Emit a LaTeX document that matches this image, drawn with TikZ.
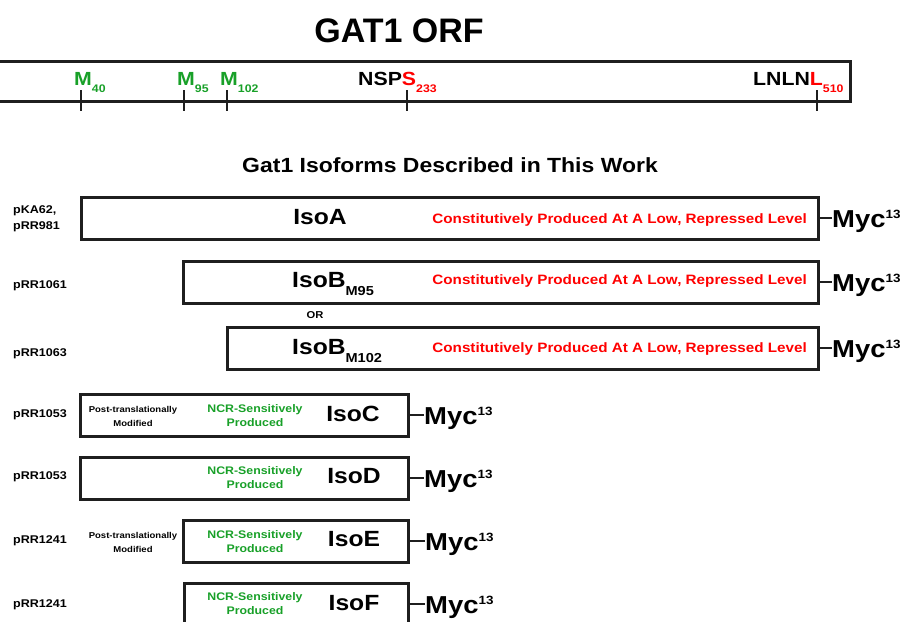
\documentclass[tikz,border=0pt]{standalone}
\usepackage{fontspec}
\setmainfont{Liberation Sans}[FakeStretch=1.12]
\newfontfamily\titlefont{Liberation Sans}
\definecolor{gatgreen}{RGB}{24,160,40}
\definecolor{gatred}{RGB}{255,0,0}
\newcommand{\fs}[2]{\fontsize{#1}{#2}\selectfont}
\newcommand{\lowsub}[3]{\raisebox{-#1pt}{\fs{#2}{#2}#3}}
\newcommand{\highsup}[3]{\raisebox{#1pt}{\fs{#2}{#2}#3}}
\tikzset{
  isobox/.style={draw=black!88, line width=3pt, anchor=north west, outer sep=0pt, inner sep=0pt, minimum height=42pt},
  tagline/.style={line width=2pt, black!88},
  tag/.style={anchor=base west, inner sep=0pt, font=\bfseries\fs{24.5}{29}},
  plasmid/.style={anchor=base west, align=left, inner sep=0pt, font=\bfseries\fs{11.2}{16}},
  isoname/.style={anchor=base, inner sep=0pt, font=\bfseries\fs{22}{26}},
  repressed/.style={anchor=base east, inner sep=0pt, text=gatred, font=\bfseries\fs{13.6}{16}},
  ncr/.style={anchor=base, align=center, inner sep=0pt, text=gatgreen, font=\bfseries\fs{11}{14.5}},
  ptm/.style={anchor=base, align=center, inner sep=0pt, font=\bfseries\fs{8.5}{14}},
  site/.style={anchor=base west, inner sep=0pt, font=\bfseries\fs{19}{22}},
  tick/.style={line width=1.4pt, black!88}
}
\begin{document}
\begin{tikzpicture}[x=1pt,y=-1pt]
\useasboundingbox (0,0) rectangle (901,621);
\clip (0,0) rectangle (901,621);
% open reading frame
\node[anchor=base, inner sep=0pt, font=\titlefont\bfseries\fs{34}{40}] (orftitle) at (399,42) {GAT1 ORF};
\draw[line width=3pt, black!88] (-5,61) rectangle (850,101);
\foreach \x in {81,184,227,407,817}
  \draw[tick] (\x,90) -- (\x,111);
\node[site, text=gatgreen] (m40) at (74,85) {M\lowsub{7}{11}{40}};
\node[site, text=gatgreen] (m95) at (177,85) {M\lowsub{7}{11}{95}};
\node[site, text=gatgreen] (m102) at (220,85) {M\lowsub{7}{11}{102}};
\node[site] (s233) at (358,85) {NSP\textcolor{gatred}{S\lowsub{7}{11}{233}}};
\node[site] (l510) at (753,85) {LNLN\textcolor{gatred}{L\lowsub{7}{11}{510}}};

\node[anchor=base, inner sep=0pt, font=\bfseries\fs{20.5}{24}] (isotitle) at (450,172) {Gat1 Isoforms Described in This Work};

% isoforms
\node[isobox, minimum width=737pt] (isoA) at (81,197) {};
\node[isobox, minimum width=635pt] (isoB95) at (183,261) {};
\node[isobox, minimum width=591pt] (isoB102) at (227,327) {};
\node[isobox, minimum width=328pt] (isoC) at (80,394) {};
\node[isobox, minimum width=328pt] (isoD) at (80,457) {};
\node[isobox, minimum width=225pt] (isoE) at (183,520) {};
\node[isobox, minimum width=224pt] (isoF) at (184,583) {};

\node[isoname] (nameA) at (320,224) {IsoA};
\node[isoname, anchor=base west] (nameB95) at (292,287) {IsoB\lowsub{8}{13}{M95}};
\node[isoname, anchor=base west] (nameB102) at (292,354) {IsoB\lowsub{8}{13}{M102}};
\node[isoname] (nameC) at (353,421) {IsoC};
\node[isoname] (nameD) at (354,483) {IsoD};
\node[isoname] (nameE) at (354,546) {IsoE};
\node[isoname] (nameF) at (354,610) {IsoF};

\node[repressed] (lowA) at (807,223) {Constitutively Produced At A Low, Repressed Level};
\node[repressed] (lowB95) at (807,284) {Constitutively Produced At A Low, Repressed Level};
\node[repressed] (lowB102) at (807,352) {Constitutively Produced At A Low, Repressed Level};
\node[anchor=base, inner sep=0pt, font=\bfseries\fs{10}{12}] (or) at (315,318) {OR};

% two-line labels sit on their last line
\node[ncr] (ncrC) at (255,426.5) {NCR-Sensitively\\Produced};
\node[ncr] (ncrD) at (255,488.5) {NCR-Sensitively\\Produced};
\node[ncr] (ncrE) at (255,552.5) {NCR-Sensitively\\Produced};
\node[ncr] (ncrF) at (255,614.5) {NCR-Sensitively\\Produced};
\node[ptm] (ptmC) at (133,426) {Post-translationally\\Modified};
\node[ptm] (ptmE) at (133,552) {Post-translationally\\Modified};

% plasmids
\node[plasmid] (pA) at (13,229) {pKA62,\\pRR981};
\node[plasmid] (pB95) at (13,288) {pRR1061};
\node[plasmid] (pB102) at (13,356) {pRR1063};
\node[plasmid] (pC) at (13,417) {pRR1053};
\node[plasmid] (pD) at (13,479) {pRR1053};
\node[plasmid] (pE) at (13,543) {pRR1241};
\node[plasmid] (pF) at (13,607) {pRR1241};

% Myc tags
\foreach \iso/\gap in {A/14,B95/14,B102/14,C/16,D/16,E/17,F/17} {
  \node[tag] (myc\iso) at ([xshift=\gap pt, yshift=-9pt]iso\iso.east) {Myc\highsup{9}{12}{13}};
  \draw[tagline] (iso\iso.east) -- (iso\iso.east -| myc\iso.west);
}
\end{tikzpicture}
\end{document}
